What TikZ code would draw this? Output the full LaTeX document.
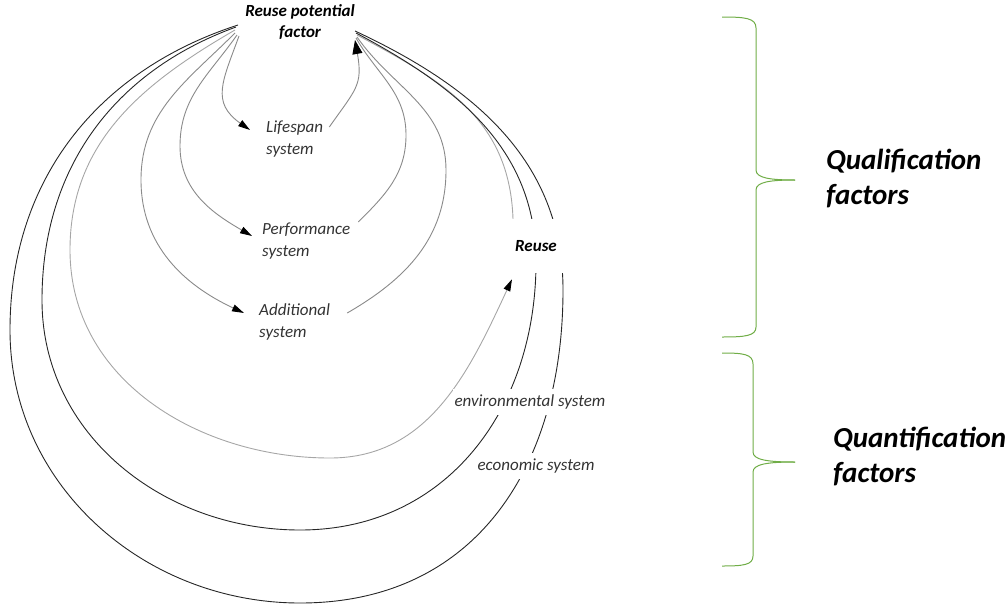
\documentclass[tikz,border=0pt]{standalone}
\usepackage{fontspec}
\setmainfont{Carlito}
\usetikzlibrary{arrows.meta,backgrounds}
\definecolor{brgreen}{HTML}{70AD47}
\definecolor{arcgrey}{HTML}{8A8A8A}
\definecolor{arclight}{HTML}{A6A6A6}
\definecolor{txtgrey}{HTML}{333333}
\tikzset{
  lbl/.style={font=\fontsize{17}{22}\selectfont\itshape, text=txtgrey, align=left, inner sep=0pt},
  boldlbl/.style={font=\fontsize{17}{21}\selectfont\bfseries\itshape, text=black, align=center, inner sep=0pt},
  biglbl/.style={font=\fontsize{29}{35}\selectfont\bfseries\itshape, text=black, align=left, inner sep=0pt, anchor=west},
  gap/.style={fill=white, inner xsep=2pt, inner ysep=6pt},
  inner/.style={draw=arcgrey, line width=0.9pt},
  light/.style={draw=arclight, line width=0.9pt},
  dark/.style={draw=black!85, line width=0.9pt},
  tip/.style={-{Triangle[length=12pt,width=7pt,color=black,fill=black]}},
  bigtip/.style={-{Triangle[length=14pt,width=10pt,color=black,fill=black]}},
  brace/.style={draw=brgreen, line width=1pt},
}
\begin{document}
\begin{tikzpicture}[x=1pt,y=1pt]
\useasboundingbox (0,0) rectangle (1008,-605);
% nodes
\node[boldlbl] (factor) at (300,-22) {Reuse potential\\factor};
\node[lbl, anchor=west] (life) at (266,-139) {Lifespan\\system};
\node[lbl, anchor=west] (perf) at (262,-241) {Performance\\system};
\node[lbl, anchor=west] (add) at (259,-322) {Additional\\system};
\node[boldlbl, fill=white, minimum width=62pt, minimum height=54pt] (reuse) at (536,-246) {Reuse};
\node[lbl, gap] (env) at (530,-402) {environmental system};
\node[lbl, gap] (econ) at (536,-466) {economic system};
\node[biglbl] (qual) at (826,-178) {Qualification\\factors};
\node[biglbl] (quant) at (833,-456) {Quantification\\factors};
% start / end points at the factor
\coordinate (ls) at (239,-36);
\coordinate (ps) at (237,-35);
\coordinate (as) at (235,-33);
\coordinate (rs) at (235,-30);
\coordinate (es) at (236,-27);
\coordinate (cs) at (238,-25);
\coordinate (le) at (355,-40);
\coordinate (pe) at (356,-38);
\coordinate (ae) at (357,-37);
\coordinate (re) at (357,-35);
\coordinate (ee) at (356,-33);
\coordinate (ce) at (355,-31);
\begin{scope}[on background layer]
% lifespan
\draw[inner, tip] (ls) to[out=-110,in=145,looseness=1.3] ([shift={(-16,9)}]life.west);
\draw[inner, bigtip] ([shift={(6,12)}]life.east) to[out=55,in=-80,looseness=1.3] (le);
% performance
\draw[inner, tip] (ps) to[out=-125,in=90] (180,-146) to[out=-90,in=150] ([shift={(-10,5)}]perf.west);
\draw[inner] ([shift={(8,19)}]perf.east) to[out=45,in=-90] (406,-135) to[out=90,in=-60] (pe);
% additional
\draw[inner, tip] (as) to[out=-135,in=90] (141,-180) to[out=-90,in=155] ([shift={(-15,9)}]add.west);
\draw[inner] ([shift={(17,9)}]add.east) to[out=30,in=-90] (446,-170) to[out=90,in=-55] (ae);
% reuse
\draw[light, tip] (rs) to[out=-150,in=90] (70,-250) to[out=-90,in=180] (330,-458) to[out=0,in=-115] ([shift={(-24,-6)}]reuse.south);
\draw[light] ([xshift=-23pt]reuse.north) to[out=92,in=-28,looseness=1.05] (re);
% environmental
\draw[dark] (es) to[out=-160,in=90] (42,-300) to[out=-90,in=180] (300,-530) to[out=0,in=-90,looseness=1.05] (536,-262) to[out=90,in=-28] (ee);
% economic
\draw[dark] (cs) to[out=-162,in=90] (10,-330) to[out=-90,in=180] (300,-603) to[out=0,in=-90,looseness=1.1] (563,-290) to[out=90,in=-25] (ce);
\end{scope}
% braces
\draw[brace] (722,-17) .. controls (745,-17) and (756,-18) .. (756,-28) -- (756,-170) .. controls (756,-178) and (770,-180) .. (795,-180);
\draw[brace] (795,-180) .. controls (770,-180) and (756,-182) .. (756,-190) -- (756,-327) .. controls (756,-336) and (745,-337) .. (722,-337);
\draw[brace] (722,-353) .. controls (743,-353) and (753,-354) .. (753,-364) -- (753,-452) .. controls (753,-460) and (768,-462) .. (795,-462);
\draw[brace] (795,-462) .. controls (768,-462) and (753,-464) .. (753,-472) -- (753,-556) .. controls (753,-565) and (743,-566) .. (722,-566);
\end{tikzpicture}
\end{document}
